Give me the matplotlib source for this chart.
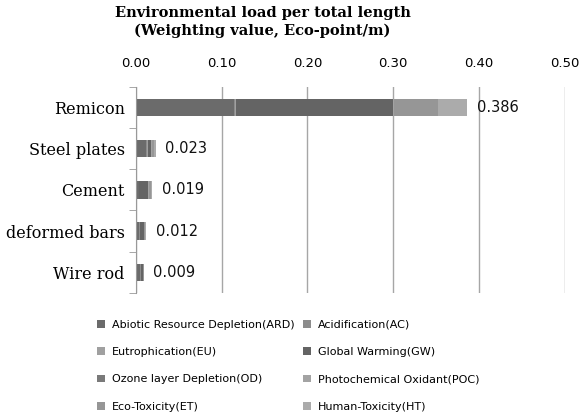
import numpy as np
import matplotlib
matplotlib.use('Agg')
import matplotlib.pyplot as plt

materials = ['Remicon', 'Steel plates', 'Cement', 'deformed bars', 'Wire rod']
categories = ['Abiotic Resource Depletion(ARD)', 'Acidification(AC)',
              'Eutrophication(EU)', 'Global Warming(GW)',
              'Ozone layer Depletion(OD)', 'Photochemical Oxidant(POC)',
              'Eco-Toxicity(ET)', 'Human-Toxicity(HT)']

# contributions per impact category (Eco-point/m)
ard = [0.114, 0.012, 0.003, 0.004, 0.005]
ac = [0.002, 0.001, 0.0005, 0.0005, 0.0005]
eu = [0.001, 0.0005, 0.0005, 0.0005, 0.0]
gw = [0.183, 0.004, 0.010, 0.004, 0.003]
od = [0.0, 0.0005, 0.0, 0.0, 0.0]
poc = [0.001, 0.001, 0.001, 0.0005, 0.0002]
et = [0.051, 0.002, 0.002, 0.001, 0.0003]
ht = [0.034, 0.002, 0.002, 0.0015, 0.0]
totals = [0.386, 0.023, 0.019, 0.012, 0.009]

colors = ['#6b6b6b', '#8c8c8c', '#a0a0a0', '#646464',
          '#7a7a7a', '#a3a3a3', '#969696', '#ababab']

fig = plt.figure(figsize=(5.81, 4.16), dpi=100)
ax = fig.add_axes([0.234, 0.296, 0.738, 0.495])

y = np.arange(len(materials))
left = np.zeros(len(materials))
handles = []
for name, vals, c in zip(categories, [ard, ac, eu, gw, od, poc, et, ht], colors):
    b = ax.barh(y, vals, left=left, height=0.42, color=c, label=name)
    handles.append(b)
    left += np.array(vals)

for yi, t in zip(y, totals):
    ax.annotate('%.3f' % t, (t, yi), xytext=(7, 0), textcoords='offset points',
                va='center', ha='left', fontsize=10.5, family='DejaVu Sans',
                color='#111111')

ax.set_ylim(len(materials) - 0.5, -0.5)
ax.set_xlim(0, 0.5)
ax.set_xticks(np.arange(0, 0.51, 0.1))
ax.set_xticklabels(['%.2f' % v for v in np.arange(0, 0.51, 0.1)],
                   fontsize=9.5, family='DejaVu Sans')
ax.xaxis.tick_top()
ax.tick_params(axis='x', length=0, pad=12)
ax.set_yticks(y)
ax.set_yticklabels(materials, fontsize=11.5, family='DejaVu Serif')
ax.set_yticks(np.arange(-0.5, len(materials)), minor=True)
ax.tick_params(axis='y', which='major', length=0, pad=8)
ax.tick_params(axis='y', which='minor', length=5, color='#999999')
ax.grid(axis='x', color='#a6a6a6', linewidth=1)
ax.set_axisbelow(True)
for s in ['top', 'right', 'bottom']:
    ax.spines[s].set_visible(False)
ax.spines['left'].set_color('#999999')

fig.text(0.452, 0.985, 'Environmental load per total length\n(Weighting value, Eco-point/m)',
         ha='center', va='top', fontsize=10.5, fontweight='bold',
         family='DejaVu Serif', linespacing=1.3)

# legend filled row by row: reorder handles for column-major layout
order = [0, 2, 4, 6, 1, 3, 5, 7]
fig.legend([handles[i] for i in order], [categories[i] for i in order],
           loc='upper left', bbox_to_anchor=(0.15, 0.255), ncol=2,
           frameon=False, fontsize=8, handlelength=0.7, handleheight=0.7,
           columnspacing=0.8, labelspacing=1.55, handletextpad=0.6)

plt.savefig('out.png', dpi=100)
